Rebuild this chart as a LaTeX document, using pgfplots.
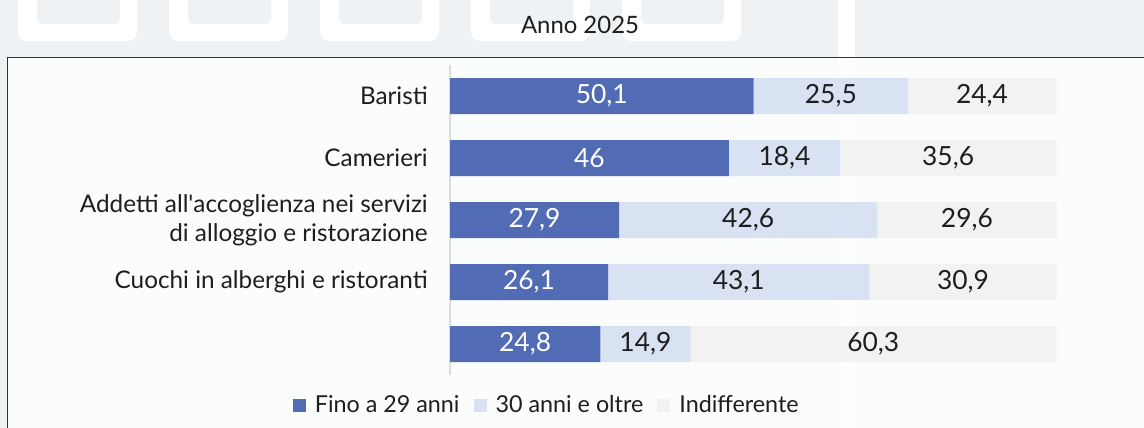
\documentclass[border=0pt]{standalone}
\usepackage{pgfplots}
\pgfplotsset{compat=1.18}
\usepackage{fontspec}
\setmainfont{Lato}
\definecolor{bgc}{HTML}{EEF2F5}
\definecolor{frm}{HTML}{FBFDFD}
\definecolor{cA}{HTML}{516BB4}
\definecolor{cB}{HTML}{D9E2F2}
\definecolor{cC}{HTML}{F2F2F1}
\definecolor{txt}{HTML}{1E1E1E}
\begin{document}
\begin{tikzpicture}
\useasboundingbox (0,0) rectangle (1144bp,428bp);
\clip (0,0) rectangle (1144bp,428bp);
\fill[bgc] (0,0) rectangle (1144bp,428bp);
\foreach \x in {18,169,320,471,622}{
  \fill[white,rounded corners=9bp] (\x bp,387bp) rectangle ({\x bp+119bp},470bp);
  \fill[bgc,rounded corners=6bp] ({\x bp+19bp},404bp) rectangle ({\x bp+102bp},470bp);
}
\fill[white] (838bp,0) rectangle (855bp,428bp);
\filldraw[fill=frm, draw=black!80, line width=1bp] (7.5bp,-5bp) rectangle (1150bp,370.5bp);
\fill[white,opacity=0.6] (838bp,0) rectangle (855bp,370bp);
\node[font=\fontsize{24}{28}\selectfont, text=txt] at (580bp,403bp) {Anno 2025};
\begin{axis}[
  at={(450bp,53bp)}, anchor=south west,
  width=606bp, height=310bp, scale only axis,
  xbar stacked, bar width=36bp, clip=false,
  xmin=0, xmax=100, ymin=-0.5, ymax=4.5, y dir=reverse,
  axis x line=none, axis y line*=left,
  xtick=\empty,
  y axis line style={draw=black!14, line width=2bp},
  ytick={0,1,2,3,4},
  yticklabels={Baristi, Camerieri, {Addetti all\textquotesingle accoglienza nei servizi\\di alloggio e ristorazione}, Cuochi in alberghi e ristoranti, {}},
  yticklabel style={align=right, font=\fontsize{24.4}{29}\selectfont, text=txt, inner sep=0pt, xshift=-22bp},
  major tick length=0pt,
  point meta=explicit symbolic,
  nodes near coords,
  every node near coord/.append style={anchor=center, font=\fontsize{26.5}{30}\selectfont, text=txt},
  legend style={at={(0.158,-0.097)}, anchor=center, draw=none, fill=none, legend columns=3, font=\fontsize{23.4}{27}\selectfont, text=txt,
    nodes={inner sep=0pt},
    /tikz/every odd column/.append style={column sep=9bp},
    /tikz/every even column/.append style={column sep=14bp}},
  legend image code/.code={\fill[#1] (0bp,-6.5bp) rectangle (13bp,6.5bp);},
]
\addplot[fill=cA, draw=none, every node near coord/.append style={text=white}] coordinates {
  (50.1,0) [50,1]
  (46,1) [46]
  (27.9,2) [27,9]
  (26.1,3) [26,1]
  (24.8,4) [24,8]
};
\addplot[fill=cB, draw=none] coordinates {
  (25.5,0) [25,5]
  (18.4,1) [18,4]
  (42.6,2) [42,6]
  (43.1,3) [43,1]
  (14.9,4) [14,9]
};
\addplot[fill=cC, draw=none] coordinates {
  (24.4,0) [24,4]
  (35.6,1) [35,6]
  (29.6,2) [29,6]
  (30.9,3) [30,9]
  (60.3,4) [60,3]
};
\legend{Fino a 29 anni, 30 anni e oltre, Indifferente}
\end{axis}
\end{tikzpicture}
\end{document}
